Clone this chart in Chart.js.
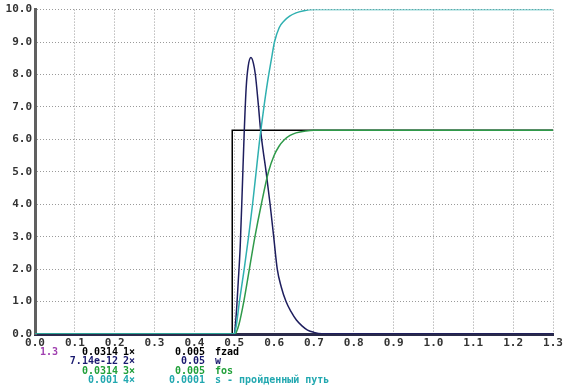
<!DOCTYPE html>
<html lang="ru">
<head>
  <meta charset="UTF-8">
  <title>fzad / w / fos / s</title>
  <script src="https://cdn.jsdelivr.net/npm/chart.js"></script>
  <style>
    body { margin: 0; background: #fff; }
    canvas { display: block; }
  </style>
</head>
<body>
  <canvas id="simChart" width="569" height="390"></canvas>

  <script>
    // values
    const fzadX = [0, 0.495, 0.495, 1.3];
    const fzadY = [0, 0, 6.28, 6.28];

    const wX = [0, 0.5, 0.505, 0.51, 0.515, 0.52, 0.525, 0.53, 0.535, 0.542, 0.548, 0.553, 0.561, 0.566, 0.572, 0.58, 0.59, 0.599, 0.608, 0.618, 0.63, 0.643, 0.656, 0.67, 0.684, 0.70, 0.72, 1.3];
    const wY = [0, 0, 0.6, 1.6, 2.7, 4.4, 6.2, 7.6, 8.25, 8.52, 8.35, 8.0, 7.0, 6.3, 5.7, 5.0, 4.0, 3.0, 2.0, 1.45, 1.0, 0.68, 0.43, 0.25, 0.12, 0.05, 0.01, 0];

    const fosX = [0, 0.5, 0.505, 0.512, 0.524, 0.538, 0.552, 0.568, 0.586, 0.60, 0.612, 0.625, 0.64, 0.655, 0.68, 0.70, 1.3];
    const fosY = [0, 0, 0.05, 0.3, 1.0, 2.0, 3.0, 4.0, 5.0, 5.5, 5.78, 5.98, 6.12, 6.2, 6.26, 6.28, 6.28];

    const sX = [0, 0.5, 0.505, 0.513, 0.525, 0.536, 0.546, 0.555, 0.563, 0.574, 0.584, 0.593, 0.601, 0.613, 0.625, 0.639, 0.655, 0.672, 0.70, 1.3];
    const sY = [0, 0, 0.25, 1.0, 2.0, 3.0, 4.0, 5.0, 5.9, 6.95, 7.8, 8.45, 9.0, 9.45, 9.65, 9.8, 9.9, 9.96, 10.0, 10.0];

    // legend rows under the axis
    const timeLabel = '1.3';
    const seriesScale = ['0.0314', '7.14e-12', '0.0314', '0.001'];
    const seriesIndex = ['1×', '2×', '3×', '4×'];
    const seriesStep = ['0.005', '0.05', '0.005', '0.0001'];
    const seriesNames = ['fzad', 'w', 'fos', 's - пройденный путь'];
    const seriesColors = ['#000000', '#1e1e5e', '#2f9a4a', '#2fb0b0'];
    const textColors = ['#000000', '#1a1a70', '#22a03a', '#22a8b0'];

    const xMin = 0, xMax = 1.3, xStep = 0.1;
    const yMin = 0, yMax = 10, yStep = 1;

    function pts(xs, ys) {
      return xs.map((x, i) => ({ x: x, y: ys[i] }));
    }

    const tickFont = { family: '"DejaVu Sans Mono", "Liberation Mono", monospace', size: 11, weight: 'bold' };

    const legendRows = {
      id: 'legendRows',
      afterDraw(chart) {
        const ctx = chart.ctx;
        const rowY = [352, 361.5, 371, 380.5];
        ctx.save();
        ctx.font = 'bold 10px "DejaVu Sans Mono", monospace';
        ctx.textBaseline = 'middle';
        ctx.fillStyle = '#a040b0';
        ctx.textAlign = 'left';
        ctx.fillText(timeLabel, 40, rowY[0]);
        seriesNames.forEach((name, i) => {
          ctx.fillStyle = textColors[i];
          ctx.textAlign = 'right';
          ctx.fillText(seriesScale[i], 118, rowY[i]);
          ctx.fillText(seriesStep[i], 205, rowY[i]);
          ctx.textAlign = 'left';
          ctx.fillText(seriesIndex[i], 123, rowY[i]);
          ctx.fillText(name, 215, rowY[i]);
        });
        ctx.restore();
      }
    };

    const lineStyle = { fill: false, pointRadius: 0, borderWidth: 1.5 };

    new Chart(document.getElementById('simChart'), {
      type: 'line',
      data: {
        datasets: [
          Object.assign({ label: 'fzad', data: pts(fzadX, fzadY), borderColor: seriesColors[0], tension: 0, order: 3 }, lineStyle),
          Object.assign({ label: 'w', data: pts(wX, wY), borderColor: seriesColors[1], cubicInterpolationMode: 'monotone', order: 2 }, lineStyle),
          Object.assign({ label: 'fos', data: pts(fosX, fosY), borderColor: seriesColors[2], cubicInterpolationMode: 'monotone', order: 1 }, lineStyle),
          Object.assign({ label: 's', data: pts(sX, sY), borderColor: seriesColors[3], cubicInterpolationMode: 'monotone', order: 0 }, lineStyle)
        ]
      },
      options: {
        responsive: false,
        animation: false,
        layout: { padding: { left: 0, right: 16, top: 7, bottom: 0 } },
        plugins: { legend: { display: false }, tooltip: { enabled: false } },
        scales: {
          x: {
            type: 'linear',
            min: xMin, max: xMax,
            afterFit: s => { s.height = 56; },
            ticks: {
              stepSize: xStep,
              padding: 3,
              color: '#333',
              font: tickFont,
              maxRotation: 0,
              callback: v => v.toFixed(1)
            },
            grid: { color: '#9a9a9a', drawTicks: false },
            border: { display: true, color: '#2a2a4a', width: 3, dash: [1, 2] }
          },
          y: {
            min: yMin, max: yMax,
            afterFit: s => { s.width = 35; },
            ticks: {
              stepSize: yStep,
              padding: 3,
              color: '#333',
              font: tickFont,
              callback: v => v.toFixed(1)
            },
            grid: { color: '#9a9a9a', drawTicks: false },
            border: { display: true, color: '#606060', width: 3, dash: [1, 2] }
          }
        }
      },
      plugins: [legendRows]
    });
  </script>
</body>
</html>
